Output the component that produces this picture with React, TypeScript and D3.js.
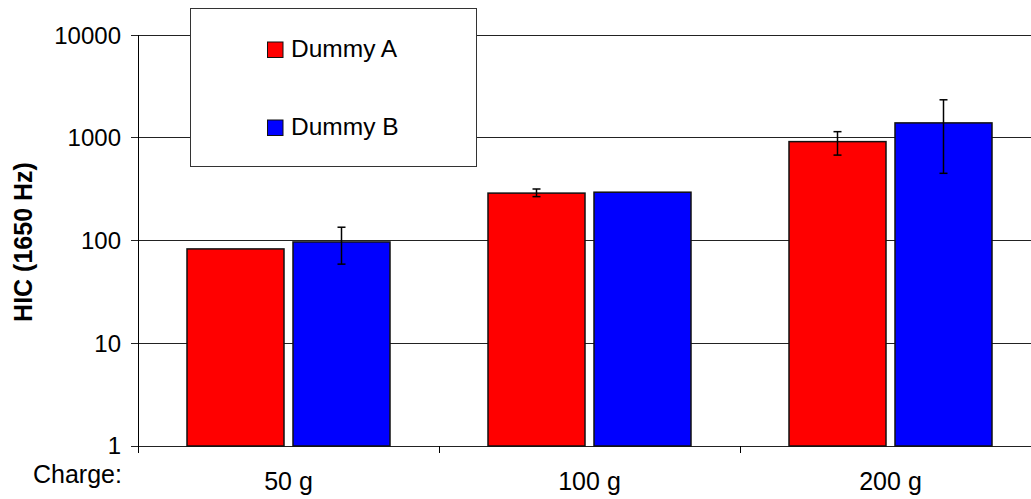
import React from "react";
import * as d3 from "d3";

const categories = ["50 g", "100 g", "200 g"];
const seriesNames = ["Dummy A", "Dummy B"];
const seriesColors = ["#ff0000", "#0000ff"];
const dummyA = [83, 290, 920];
const dummyB = [97, 296, 1400];
const dummyAErr: ([number, number] | null)[] = [null, [268, 318], [680, 1150]];
const dummyBErr: ([number, number] | null)[] = [[59, 135], null, [452, 2350]];
const yTicks = [1, 10, 100, 1000, 10000];

const W = 1031;
const H = 499;
const FONT = "'Liberation Sans', Arial, sans-serif";

export default function App() {
  const left = 138;
  const right = 1041;
  const top = 35.2;
  const bottom = 446;

  const x = d3.scaleBand<string>().domain(categories).range([left, right]).paddingInner(0).paddingOuter(0);
  const xs = d3
    .scaleBand<string>()
    .domain(seriesNames)
    .range([49, 252])
    .paddingInner(9 / 106)
    .paddingOuter(0);
  const y = d3.scaleLog().domain([1, 10000]).range([bottom, top]);

  const values = [dummyA, dummyB];
  const errs = [dummyAErr, dummyBErr];

  return (
    <svg
      width={W}
      height={H}
      style={{ position: "absolute", left: 0, top: 0, background: "#fff" }}
      fontFamily={FONT}
    >
      {/* gridlines */}
      {yTicks.map((t) => (
        <line key={"g" + t} x1={left - 7} x2={right} y1={y(t)} y2={y(t)} stroke="#222" strokeWidth={1} shapeRendering="crispEdges" />
      ))}
      {/* y axis */}
      <line x1={left} x2={left} y1={top} y2={bottom} stroke="#000" strokeWidth={1} shapeRendering="crispEdges" />
      {/* category ticks */}
      {categories.map((c) => (
        <line key={"t" + c} x1={x(c)!} x2={x(c)!} y1={bottom} y2={bottom + 7} stroke="#000" strokeWidth={1} shapeRendering="crispEdges" />
      ))}
      {/* y tick labels */}
      {yTicks.map((t) => (
        <text key={"l" + t} x={121} y={y(t)} dy="0.35em" textAnchor="end" fontSize={24} fill="#000">
          {t}
        </text>
      ))}
      {/* bars */}
      {categories.map((c, ci) =>
        seriesNames.map((s, si) => {
          const bx = x(c)! + xs(s)!;
          const v = values[si][ci];
          return (
            <rect
              key={c + s}
              x={bx}
              y={y(v)}
              width={xs.bandwidth()}
              height={bottom - y(v)}
              fill={seriesColors[si]}
              stroke="#111"
              strokeWidth={1.5}
            />
          );
        })
      )}
      {/* error bars */}
      {categories.map((c, ci) =>
        seriesNames.map((s, si) => {
          const e = errs[si][ci];
          if (!e) return null;
          const cx = x(c)! + xs(s)! + xs.bandwidth() / 2;
          return (
            <g key={"e" + c + s} stroke="#000" strokeWidth={1.5}>
              <line x1={cx} x2={cx} y1={y(e[0])} y2={y(e[1])} />
              <line x1={cx - 4} x2={cx + 4} y1={y(e[0])} y2={y(e[0])} />
              <line x1={cx - 4} x2={cx + 4} y1={y(e[1])} y2={y(e[1])} />
            </g>
          );
        })
      )}
      {/* category labels */}
      {categories.map((c) => (
        <text key={"c" + c} x={x(c)! + x.bandwidth() / 2} y={490} textAnchor="middle" fontSize={25} fill="#000">
          {c}
        </text>
      ))}
      <text x={33} y={483} fontSize={25} fill="#000">
        Charge:
      </text>
      {/* y axis title */}
      <text
        transform={`translate(32,${242}) rotate(-90)`}
        textAnchor="middle"
        fontSize={25}
        fontWeight="bold"
        fill="#000"
      >
        HIC (1650 Hz)
      </text>
      {/* legend */}
      <rect x={190.5} y={8.5} width={286} height={158} fill="#fff" stroke="#333" strokeWidth={1} />
      {seriesNames.map((s, i) => (
        <g key={"lg" + s}>
          <rect x={267.5} y={42 + i * 78} width={15.5} height={15.5} fill={seriesColors[i]} stroke="#111" strokeWidth={1} />
          <text x={291} y={56.5 + i * 78} fontSize={24.5} fill="#000">
            {s}
          </text>
        </g>
      ))}
    </svg>
  );
}
